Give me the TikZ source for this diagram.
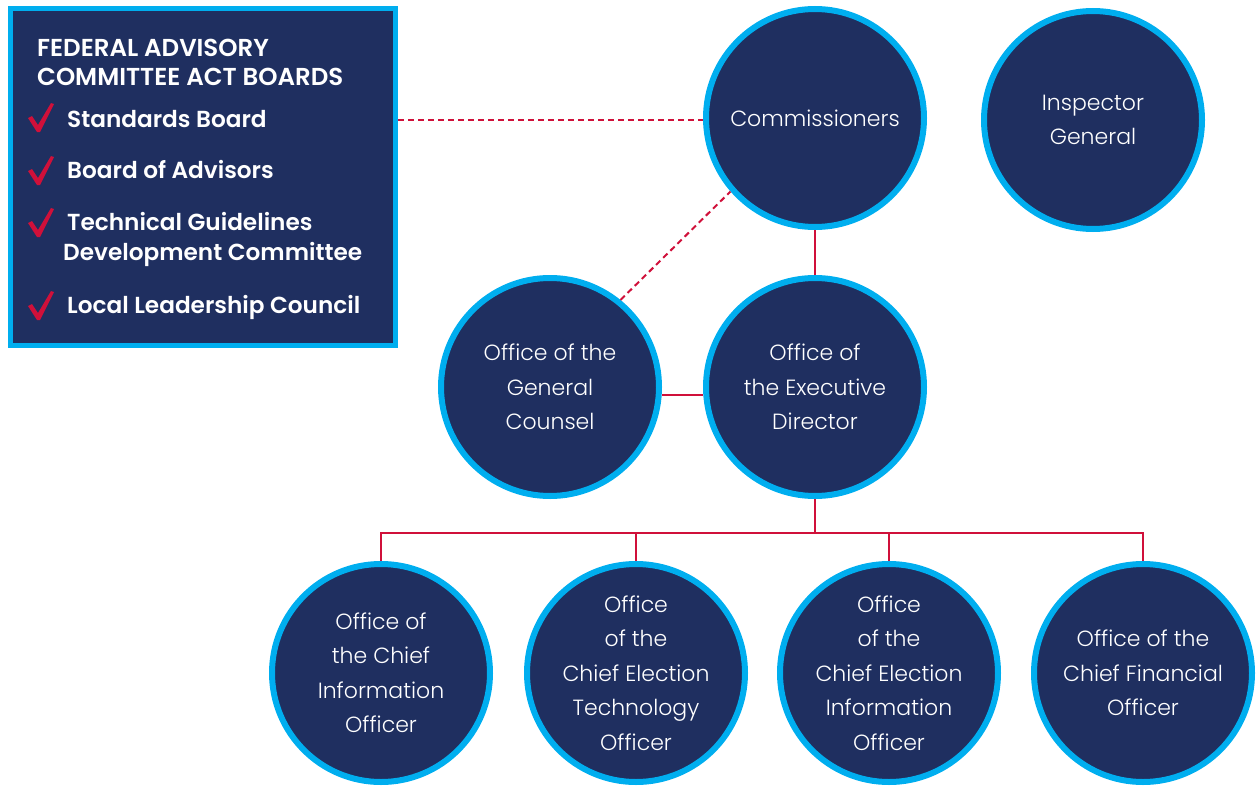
\documentclass[tikz,border=0pt]{standalone}
\usepackage{fontspec}
\setmainfont{Poppins}
\newfontfamily\circfont{Poppins Light}
\newfontfamily\boxfont{Poppins SemiBold}
\definecolor{navy}{HTML}{1F2F60}
\definecolor{ringcyan}{HTML}{00AEEF}
\definecolor{linered}{HTML}{D0103A}
\begin{document}
\begin{tikzpicture}[x=1pt,y=-1pt,
  unit/.style={circle,fill=navy,draw=ringcyan,line width=6pt,minimum size=218pt,inner sep=0pt,
    text=white,align=center,font=\circfont\fontsize{22}{34.5}\selectfont},
  solidlink/.style={draw=linered,line width=2pt},
  dashlink/.style={draw=linered,line width=2pt,dash pattern=on 6pt off 4pt},
  boxtitle/.style={anchor=base west,inner sep=0pt,text=white,font=\boxfont\fontsize{24.5}{30}\selectfont},
  boxitem/.style={anchor=base west,inner sep=0pt,text=white,font=\boxfont\fontsize{23.2}{30}\selectfont},
  chk/.pic={\fill[linered] (0,14) -- (4,12) -- (10,21) -- (23,-1) -- (26,0) -- (12,28) -- (9,28) -- cycle;}
]
\useasboundingbox (0,0) rectangle (1256,787);
% FACA box
\node[draw=ringcyan,fill=navy,line width=5pt,minimum width=385pt,minimum height=337pt,inner sep=0pt] (fac) at (203,177) {};
\node[boxtitle] (t1) at (37,56) {FEDERAL ADVISORY};
\node[boxtitle] (t2) at (37,85) {COMMITTEE ACT BOARDS};
\node[boxitem] (i1) at (67,127) {Standards Board};
\node[boxitem] (i2) at (67,178) {Board of Advisors};
\node[boxitem] (i3) at (67,230) {Technical Guidelines};
\node[boxitem] (i3b) at (63,260) {Development Committee};
\node[boxitem] (i4) at (67,313) {Local Leadership Council};
\pic at (28,104) {chk};
\pic at (28,157) {chk};
\pic at (28,209) {chk};
\pic at (28,292) {chk};
% circles
\node[unit] (comm) at (815,118) {Commissioners};
\node[unit] (ig) at (1093,120) {Inspector\\General};
\node[unit] (gc) at (550,387) {Office of the\\General\\Counsel};
\node[unit] (ed) at (815,387) {Office of\\the Executive\\Director};
\node[unit] (cio) at (381,673) {Office of\\the Chief\\Information\\Officer};
\node[unit] (ceto) at (636,673) {Office\\of the\\Chief Election\\Technology\\Officer};
\node[unit] (ceio) at (889,673) {Office\\of the\\Chief Election\\Information\\Officer};
\node[unit] (cfo) at (1143,673) {Office of the\\Chief Financial\\Officer};
% links
\coordinate (bus) at (815,533);
\draw[solidlink] (comm.south) -- (ed.north);
\draw[solidlink] (gc.east |- 0,395) -- (ed.west |- 0,395);
\draw[solidlink] (ed.south) -- (bus);
\draw[solidlink] (cio.north) |- (bus) -| (cfo.north);
\draw[solidlink] (ceto.north) -- (ceto.north |- bus);
\draw[solidlink] (ceio.north) -- (ceio.north |- bus);
\draw[dashlink] (fac.east |- 0,120) -- (comm.west |- 0,120);
\draw[dashlink] (gc.51) -- (comm.221);
\end{tikzpicture}
\end{document}
